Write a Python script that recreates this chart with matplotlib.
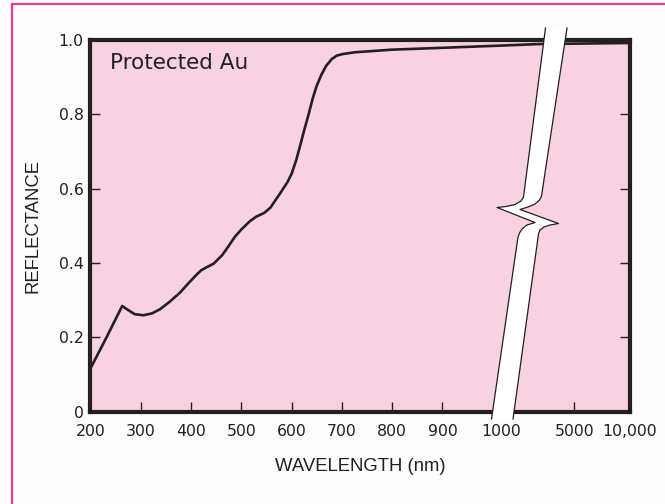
import matplotlib.pyplot as plt
import numpy as np
from matplotlib.patches import Polygon
from matplotlib.lines import Line2D

# ---- data
wavelength = [200, 232, 263, 275, 288, 305, 322, 338, 358, 378, 398, 410, 420, 432,
              445, 462, 474, 487, 500, 516, 529, 546, 558, 579, 592, 600, 609, 618,
              625, 634, 642, 650, 659, 669, 680, 690, 701, 726, 800, 900, 1000, 3000,
              10000]
reflectance = [0.116, 0.200, 0.284, 0.273, 0.262, 0.259, 0.264, 0.275, 0.296, 0.320,
               0.350, 0.367, 0.380, 0.389, 0.398, 0.421, 0.444, 0.470, 0.490, 0.511,
               0.524, 0.535, 0.549, 0.591, 0.618, 0.640, 0.676, 0.721, 0.757, 0.801,
               0.843, 0.877, 0.906, 0.931, 0.949, 0.958, 0.962, 0.967, 0.974, 0.979,
               0.985, 0.989, 0.992]

xticks = [200, 300, 400, 500, 600, 700, 800, 900, 1000, 5000, 10000]
xticklabels = ['200', '300', '400', '500', '600', '700', '800', '900', '1000', '5000', '10,000']
yticks = [0, 0.2, 0.4, 0.6, 0.8, 1.0]
yticklabels = ['0', '0.2', '0.4', '0.6', '0.8', '1.0']

# broken axis : linear 200-1000, compressed after
knots_wl = [200, 900, 1000, 5000, 10000]
knots_pos = [0, 7, 8.17, 9.62, 10.73]

def fwd(x):
    return np.interp(x, knots_wl, knots_pos)

def inv(u):
    return np.interp(u, knots_pos, knots_wl)

pink = '#f8d1e3'
ink = '#231f20'

fig = plt.figure(figsize=(6.65, 5.04), dpi=100, facecolor='#fdfdfd')
ax = fig.add_axes([90.5/665, (504-411.5)/504, 539.5/665, 371.5/504])
ax.set_facecolor(pink)
ax.set_xscale('function', functions=(fwd, inv))
ax.set_xlim(200, 10000)
ax.set_ylim(0, 1.0)

ax.plot(wavelength, reflectance, color=ink, lw=1.9, solid_capstyle='round',
        solid_joinstyle='round', zorder=3)

ax.set_xticks(xticks)
ax.set_xticklabels(xticklabels)
ax.set_yticks(yticks)
ax.set_yticklabels(yticklabels)
ax.minorticks_off()
ax.tick_params(direction='in', length=7, width=1, color=ink, labelcolor=ink,
               labelsize=11.3, right=True, top=False)
ax.tick_params(axis='x', pad=9)
ax.tick_params(axis='y', pad=5)
for s in ax.spines.values():
    s.set_linewidth(3)
    s.set_color(ink)

ax.set_xlabel('WAVELENGTH (nm)', family='Liberation Sans', fontsize=13.3, color=ink, labelpad=14)
ax.set_ylabel('REFLECTANCE', family='Liberation Sans', fontsize=13.3, color=ink, labelpad=12)

ax.text(0.036, 0.939, 'Protected Au', transform=ax.transAxes, fontsize=15.5,
        color=ink, va='center', ha='left')

# ---- axis break ribbon (pixel outline -> axes fraction)
left_px = [(545.5, 28), (523.5, 197), (521, 201), (515, 204.5), (506, 206.5),
           (497, 207.5), (535, 222.5), (527, 225), (522, 229), (519.5, 233),
           (518, 237), (491.5, 419)]
right_px = [(513, 419), (538.5, 234), (540, 230), (544, 227), (550, 225),
            (558.5, 223.5), (520, 209.5), (528, 207), (535, 204), (539.5, 200),
            (541.5, 196), (567, 28)]

def to_ax(pts):
    return [((px - 90.5) / 539.5, (411.5 - py) / 371.5) for px, py in pts]

left = to_ax(left_px)
right = to_ax(right_px)
band = Polygon(left + right, closed=True, facecolor='white', edgecolor='none',
               transform=ax.transAxes, clip_on=False, zorder=5)
ax.add_patch(band)
for side in (left, right):
    xs, ys = zip(*side)
    ax.add_line(Line2D(xs, ys, color=ink, lw=0.9, transform=ax.transAxes,
                       clip_on=False, zorder=6))

# magenta frame (top and left)
fig.add_artist(Line2D([12/665, 12/665, 1.0], [0, 1 - 4.3/504, 1 - 4.3/504],
                      color='#e8389b', lw=1.6, transform=fig.transFigure))

fig.savefig('out.png', dpi=100, facecolor=fig.get_facecolor())
